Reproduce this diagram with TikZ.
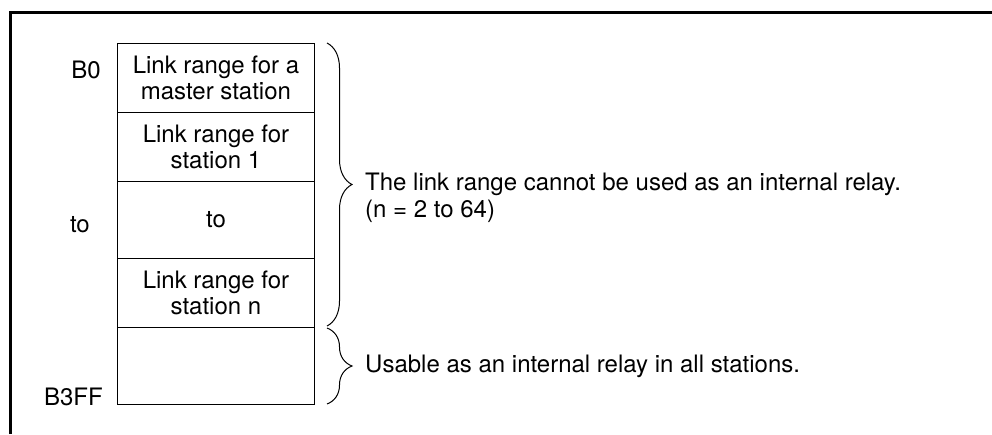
\documentclass[tikz,border=0pt]{standalone}
\usepackage{fontspec}
\setmainfont{TeX Gyre Heros}
\usetikzlibrary{decorations.pathreplacing}
\begin{document}
\begin{tikzpicture}[x=1pt,y=-1pt,
  cell/.style={draw=black,line width=0.9pt,minimum width=197pt,inner sep=0pt,align=center,font=\fontsize{24}{25.5}\selectfont,anchor=north west},
  lbl/.style={font=\fontsize{24}{24}\selectfont,inner sep=0pt},
  note/.style={font=\fontsize{24}{26.5}\selectfont,inner sep=0pt,anchor=west,align=left},
  brc/.style={draw=black,line width=1pt,decorate,decoration={brace,amplitude=25pt}},
  frame/.style={draw=black,line width=3pt}]
\useasboundingbox (0,0) rectangle (992,434);
\draw[frame] (10,434) -- (10,12) -- (992,12);
\node[cell,minimum height=69pt] (c1) at (117,43) {Link range for a\\master station};
\node[cell,minimum height=69pt] (c2) at (117,112) {Link range for\\station 1};
\node[cell,minimum height=77pt] (c3) at (117,181) {to};
\node[cell,minimum height=69pt] (c4) at (117,258) {Link range for\\station n};
\node[cell,minimum height=77pt] (c5) at (117,327) {};
\node[lbl,anchor=east] (b0) at (101,70) {B0};
\node[lbl,anchor=east] (to) at (90,225) {to};
\node[lbl,anchor=east] (b3ff) at (103,397) {B3FF};
\coordinate (br1a) at (327,43);
\coordinate (br1b) at (327,326);
\coordinate (br2a) at (327,328);
\coordinate (br2b) at (327,404);
\draw[brc] (br1a) -- (br1b);
\draw[brc] (br2a) -- (br2b);
\node[note] (t1) at (365,198) {The link range cannot be used as an internal relay.\\(n = 2 to 64)};
\node[note] (t2) at (365,366) {Usable as an internal relay in all stations.};
\end{tikzpicture}
\end{document}
